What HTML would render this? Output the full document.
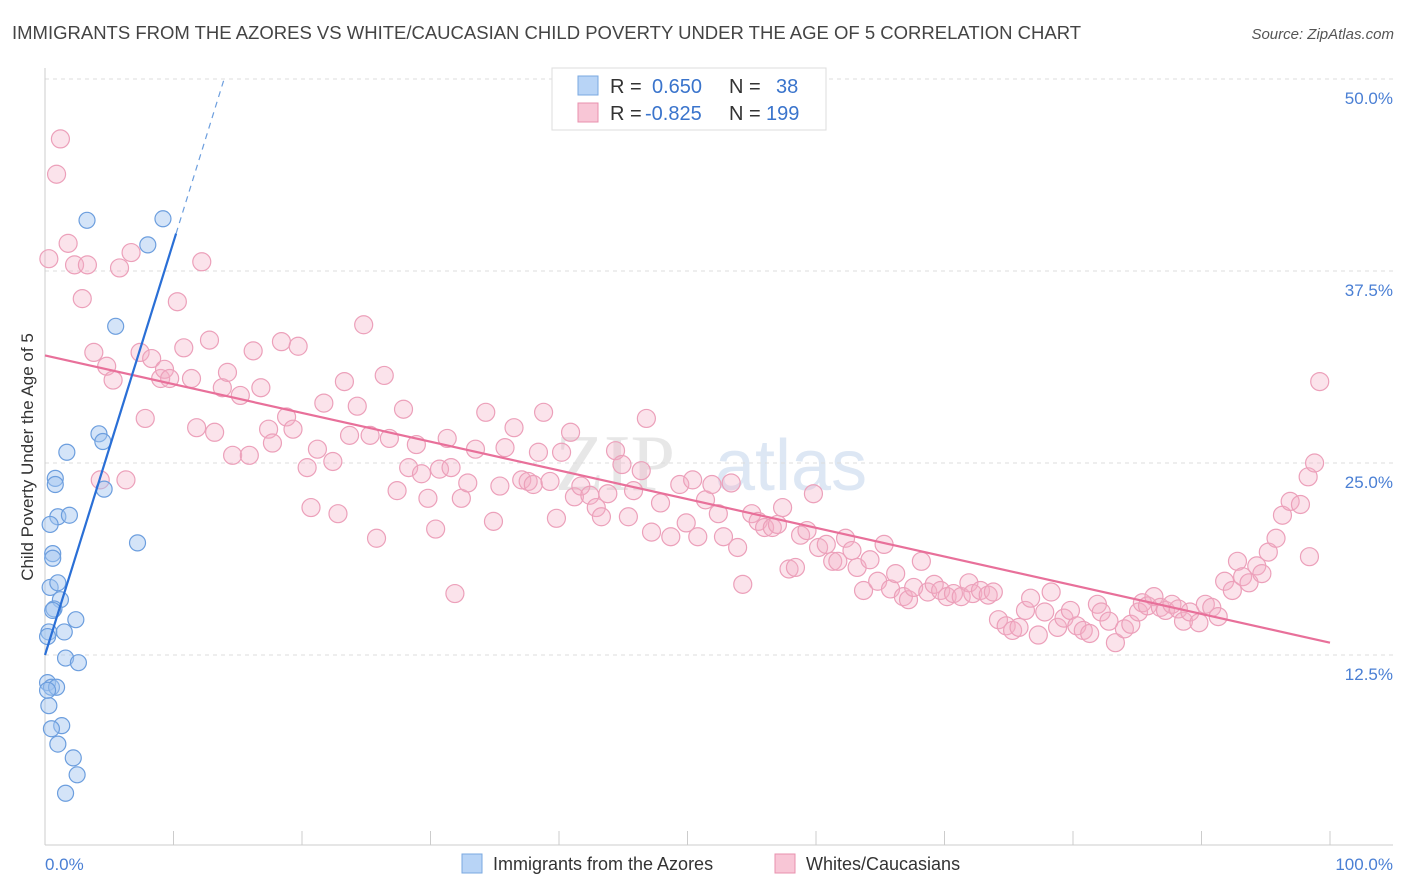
<!DOCTYPE html>
<html><head><meta charset="utf-8"><style>
body{margin:0;background:#fff;font-family:"Liberation Sans",sans-serif;}
svg{display:block}
</style></head><body>
<svg id="chart" width="1406" height="892" xmlns="http://www.w3.org/2000/svg">
<text x="12" y="39" font-size="18.5" fill="#444">IMMIGRANTS FROM THE AZORES VS WHITE/CAUCASIAN CHILD POVERTY UNDER THE AGE OF 5 CORRELATION CHART</text>
<text x="1394" y="39" font-size="15" fill="#555" text-anchor="end" font-style="italic">Source: ZipAtlas.com</text>
<text x="555" y="490" font-size="80" fill="#d8d8d8" font-family="Liberation Serif" opacity="0.6">ZIP</text>
<text x="715" y="490" font-size="72" fill="#c8d8ee" opacity="0.6">atlas</text>
<g id="grid"></g><g id="axes"></g><g id="pts"></g><g id="lines"></g>
<text transform="translate(33,457) rotate(-90)" font-size="17" fill="#333" text-anchor="middle">Child Poverty Under the Age of 5</text>
<text x="45" y="870" font-size="17" fill="#4a7fd4">0.0%</text>
<text x="1393" y="870" font-size="17" fill="#4a7fd4" text-anchor="end">100.0%</text>
<g>
<rect x="552" y="68" width="274" height="62" fill="#fff" stroke="#ddd"/>
<rect x="578" y="76" width="20" height="19" fill="#b8d4f6" stroke="#7aa8e0"/>
<rect x="578" y="103" width="20" height="19" fill="#f8c6d6" stroke="#e890ae"/>
<text x="610" y="93" font-size="20" fill="#333">R =</text><text x="652" y="93" font-size="20" fill="#3a74cc">0.650</text>
<text x="729" y="93" font-size="20" fill="#333">N =</text><text x="776" y="93" font-size="20" fill="#3a74cc">38</text>
<text x="610" y="120" font-size="20" fill="#333">R =</text><text x="645" y="120" font-size="20" fill="#3a74cc">-0.825</text>
<text x="729" y="120" font-size="20" fill="#333">N =</text><text x="766" y="120" font-size="20" fill="#3a74cc">199</text>
</g>
<g>
<rect x="462" y="854" width="20" height="19" fill="#b8d4f6" stroke="#7aa8e0"/>
<text x="493" y="870" font-size="18" fill="#333">Immigrants from the Azores</text>
<rect x="775" y="854" width="20" height="19" fill="#f8c6d6" stroke="#e890ae"/>
<text x="806" y="870" font-size="18" fill="#333">Whites/Caucasians</text>
</g>
</svg>
<script>
const yTicks=[12.5,25,37.5,50];
const yTickLabels=["12.5%","25.0%","37.5%","50.0%"];
const blueX=[3.27,9.18,8.0,5.5,1.7,4.2,4.5,4.6,0.8,0.8,1.0,1.9,0.4,7.2,0.6,0.6,0.4,1.0,1.2,0.7,0.6,2.4,0.3,1.5,0.2,1.6,2.6,0.2,0.5,0.9,0.3,1.3,0.5,1.0,2.2,2.5,1.6,0.2];
const blueY=[40.8,40.9,39.2,33.9,25.7,26.9,26.4,23.3,24.0,23.6,21.5,21.6,21.0,19.8,19.1,18.8,16.9,17.2,16.1,15.5,15.4,14.8,14.0,14.0,13.7,12.3,12.0,10.7,10.4,10.4,9.2,7.9,7.7,6.7,5.8,4.7,3.5,10.2];
const pinkX=[1.2,0.9,0.3,1.8,2.3,3.3,2.9,5.8,6.7,3.8,4.8,5.3,4.3,6.3,7.4,7.8,8.3,9.0,9.3,9.7,10.3,10.8,11.4,11.8,12.2,12.8,13.2,13.8,14.2,14.6,15.2,15.9,16.2,16.8,17.4,17.7,18.4,18.8,19.3,19.7,20.4,20.7,21.2,21.7,22.4,22.8,23.3,23.7,24.3,24.8,25.3,25.8,26.4,26.8,27.4,27.9,28.3,28.9,29.3,29.8,30.4,30.7,31.3,31.6,31.9,32.4,32.9,33.5,34.3,34.9,35.4,35.8,36.5,37.1,37.6,38.0,38.4,38.8,39.3,39.8,40.2,40.9,41.2,41.7,42.4,42.9,43.3,43.8,44.4,44.9,45.4,45.8,46.4,46.8,47.2,47.9,48.7,49.4,49.9,50.4,50.8,51.4,51.9,52.4,52.8,53.4,53.9,54.3,55.0,55.5,56.0,56.6,57.0,57.4,57.9,58.4,58.8,59.3,59.8,60.2,60.8,61.3,61.7,62.3,62.8,63.2,63.7,64.2,64.8,65.3,65.8,66.2,66.8,67.2,67.6,68.2,68.7,69.2,69.7,70.2,70.7,71.3,71.9,72.2,72.8,73.4,73.8,74.2,74.8,75.3,75.8,76.3,76.7,77.3,77.8,78.3,78.8,79.3,79.8,80.3,80.8,81.3,81.9,82.2,82.8,83.3,84.0,84.5,85.1,85.4,85.8,86.3,86.8,87.2,87.7,88.2,88.6,89.1,89.8,90.3,90.8,91.3,91.8,92.4,92.8,93.2,93.7,94.3,94.7,95.2,95.8,96.3,96.9,97.7,98.4,98.3,98.8,99.2];
const pinkY=[46.1,43.8,38.3,39.3,37.9,37.9,35.7,37.7,38.7,32.2,31.3,30.4,23.9,23.9,32.2,27.9,31.8,30.5,31.1,30.5,35.5,32.5,30.5,27.3,38.1,33.0,27.0,29.9,30.9,25.5,29.4,25.5,32.3,29.9,27.2,26.3,32.9,28.0,27.2,32.6,24.7,22.1,25.9,28.9,25.1,21.7,30.3,26.8,28.7,34.0,26.8,20.1,30.7,26.6,23.2,28.5,24.7,26.2,24.3,22.7,20.7,24.6,26.6,24.7,16.5,22.7,23.7,25.9,28.3,21.2,23.5,26.0,27.3,23.9,23.8,23.6,25.7,28.3,23.8,21.4,25.7,27.0,22.8,23.5,22.9,22.1,21.5,23.0,25.8,24.9,21.5,23.2,24.5,27.9,20.5,22.4,20.2,23.6,21.1,23.9,20.2,22.6,23.6,21.7,20.2,23.7,19.5,17.1,21.7,21.2,20.8,20.8,21.0,22.1,18.1,18.2,20.3,20.6,23.0,19.5,19.7,18.6,18.6,20.1,19.3,18.2,16.7,18.7,17.3,19.7,16.8,17.8,16.3,16.1,16.9,18.6,16.6,17.1,16.7,16.3,16.5,16.3,17.2,16.5,16.7,16.4,16.6,14.8,14.4,14.1,14.3,15.4,16.2,13.8,15.3,16.6,14.3,14.9,15.4,14.4,14.1,13.9,15.8,15.3,14.7,13.3,14.2,14.5,15.3,15.9,15.7,16.3,15.6,15.4,15.8,15.5,14.7,15.3,14.6,15.8,15.6,15.0,17.3,16.7,18.6,17.6,17.2,18.3,17.8,19.2,20.1,21.6,22.5,22.3,18.9,24.1,25.0,30.3];
const blueTrend=[12.5,2.69];
const pinkTrend=[32.0,-0.187];
const X0=45,X1=1330,Y0=847,PPV=15.36;
const sx=v=>X0+(X1-X0)*v/100, sy=v=>Y0-v*PPV;
const NS="http://www.w3.org/2000/svg";
function mk(p,t,a){const e=document.createElementNS(NS,t);for(const k in a)e.setAttribute(k,a[k]);document.getElementById(p).appendChild(e);return e;}
yTicks.forEach((v,i)=>{
 const l=mk('grid','line',{x1:45,x2:1393,y1:sy(v),y2:sy(v),stroke:'#ddd','stroke-dasharray':'4,4'});
 
 
 const t=mk('grid','text',{x:1393,y:sy(v)+25,'font-size':17,fill:'#4a7fd4','text-anchor':'end'});
 t.textContent=yTickLabels[i];
 
 
});
let a=mk('axes','line',{x1:45,x2:45,y1:68,y2:845,stroke:'#ccc'});


a=mk('axes','line',{x1:45,x2:1393,y1:845,y2:845,stroke:'#ccc'});


for(let i=1;i<=10;i++){const t=mk('axes','line',{x1:sx(i*10),x2:sx(i*10),y1:831,y2:845,stroke:'#ccc'});
 
 }
pinkX.forEach((x,i)=>{const c=mk('pts','circle',{cx:sx(x),cy:sy(pinkY[i]),r:9,fill:'rgba(244,176,198,0.35)',stroke:'#eca0ba','stroke-width':1.2});
 
 });
blueX.forEach((x,i)=>{const c=mk('pts','circle',{cx:sx(x),cy:sy(blueY[i]),r:8,fill:'rgba(160,196,240,0.45)',stroke:'#6c9ede','stroke-width':1.2});
 
 });
let ln=mk('lines','line',{x1:sx(0),y1:sy(pinkTrend[0]),x2:sx(100),y2:sy(pinkTrend[0]+100*pinkTrend[1]),stroke:'#e8709a','stroke-width':2.2});


const bEnd=10.2, bTop=(50-blueTrend[0])/blueTrend[1];
ln=mk('lines','line',{x1:sx(0),y1:sy(blueTrend[0]),x2:sx(bEnd),y2:sy(blueTrend[0]+bEnd*blueTrend[1]),stroke:'#2a6fd6','stroke-width':2.2});


ln=mk('lines','line',{x1:sx(bEnd),y1:sy(blueTrend[0]+bEnd*blueTrend[1]),x2:sx(bTop),y2:sy(50),stroke:'#6c9ede','stroke-width':1.2,'stroke-dasharray':'6,5'});


</script>
</body></html>
